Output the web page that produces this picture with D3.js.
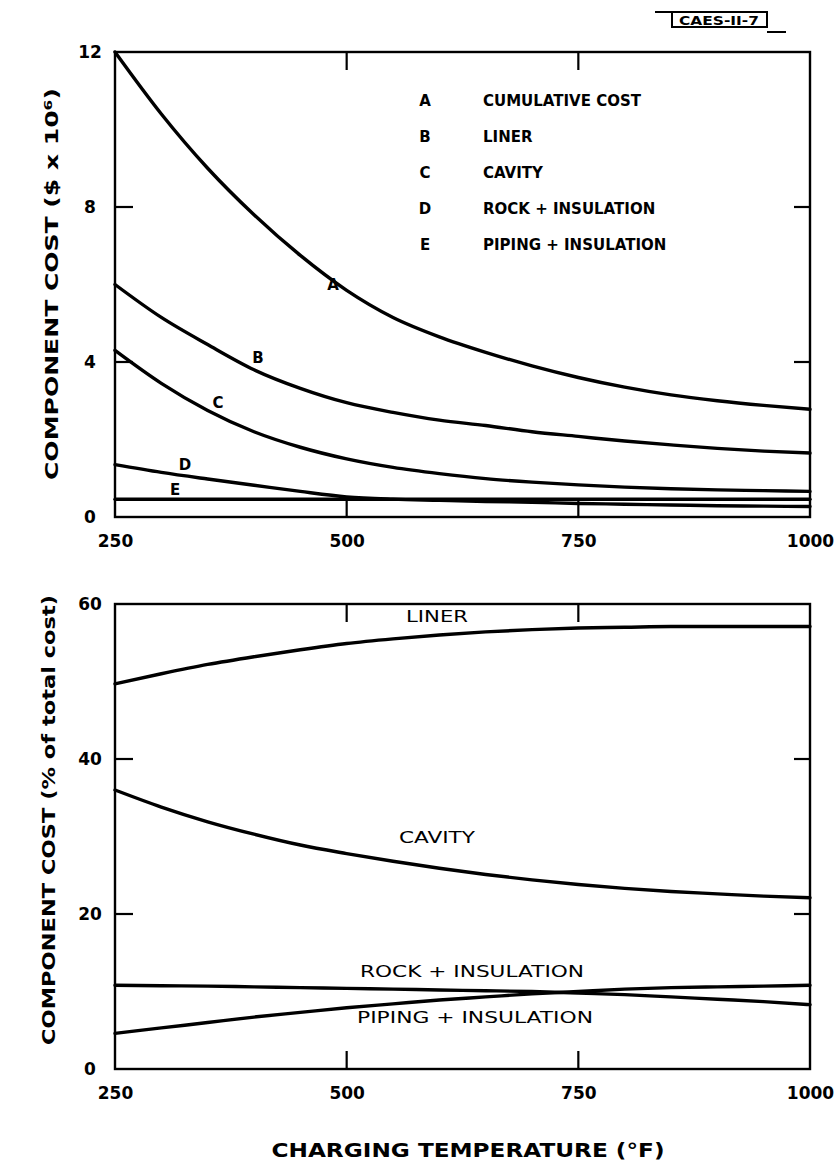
<!DOCTYPE html>
<html><head><meta charset="utf-8">
<script src="https://cdn.jsdelivr.net/npm/d3@7/dist/d3.min.js"></script>
<style>
html,body{margin:0;padding:0;background:#fff;}
svg text{font-family:"DejaVu Sans",sans-serif;fill:#000;}
</style></head>
<body>
<svg id="chart" width="839" height="1168"></svg>
<script>
// ---------- data ----------
const temps = [250,300,350,400,450,500,550,600,650,700,750,800,850,900,950,1000];
const costA = [12.0,10.4,9.0,7.8,6.75,5.85,5.15,4.65,4.25,3.9,3.6,3.35,3.15,3.0,2.88,2.78];
const costB = [6.0,5.15,4.45,3.8,3.32,2.95,2.7,2.5,2.36,2.2,2.08,1.96,1.86,1.77,1.7,1.65];
const costC = [4.3,3.45,2.75,2.2,1.8,1.5,1.28,1.12,0.99,0.9,0.83,0.77,0.73,0.7,0.68,0.66];
const costD = [1.35,1.15,0.98,0.82,0.66,0.52,0.46,0.43,0.4,0.38,0.35,0.33,0.31,0.29,0.28,0.27];
const costE = [0.46,0.46,0.46,0.46,0.46,0.46,0.46,0.46,0.46,0.46,0.46,0.46,0.46,0.46,0.46,0.46];
const pctLiner  = [49.7,51.0,52.2,53.2,54.1,54.9,55.5,56.0,56.4,56.7,56.9,57.0,57.1,57.1,57.1,57.1];
const pctCavity = [36.0,33.8,31.9,30.3,28.9,27.8,26.8,25.9,25.1,24.4,23.8,23.3,22.9,22.6,22.3,22.1];
const pctRock   = [10.8,10.75,10.7,10.6,10.5,10.4,10.3,10.2,10.1,10.0,9.8,9.6,9.3,9.0,8.7,8.3];
const pctPiping = [4.6,5.3,6.0,6.7,7.3,7.9,8.4,8.9,9.3,9.7,10.0,10.3,10.5,10.6,10.7,10.8];
const xTicks = [250,500,750,1000];
const topYTicks = [0,4,8,12];
const botYTicks = [0,20,40,60];
const legendKeys = ["A","B","C","D","E"];
const legendNames = ["CUMULATIVE COST","LINER","CAVITY","ROCK + INSULATION","PIPING + INSULATION"];

// ---------- layout ----------
const svg = d3.select("#chart");
const x = d3.scaleLinear().domain([250,1000]).range([115,810]);
const yTop = d3.scaleLinear().domain([0,12]).range([517,52]);
const yBot = d3.scaleLinear().domain([0,60]).range([1069,604]);
const curveW = 3.4;

function drawFrame(y, yInner){
  const [yb, yt] = y.range();
  svg.append("rect").attr("x",x(250)).attr("y",yt).attr("width",x(1000)-x(250)).attr("height",yb-yt)
     .attr("fill","none").attr("stroke","#000").attr("stroke-width",2.4);
  [500,750].forEach(v=>{
    svg.append("line").attr("x1",x(v)).attr("x2",x(v)).attr("y1",yb).attr("y2",yb-18).attr("stroke","#000").attr("stroke-width",2.2);
    svg.append("line").attr("x1",x(v)).attr("x2",x(v)).attr("y1",yt).attr("y2",yt+18).attr("stroke","#000").attr("stroke-width",2.2);
  });
  yInner.forEach(v=>{
    svg.append("line").attr("x1",x(250)).attr("x2",x(250)+18).attr("y1",y(v)).attr("y2",y(v)).attr("stroke","#000").attr("stroke-width",2.2);
    svg.append("line").attr("x1",x(1000)).attr("x2",x(1000)-16).attr("y1",y(v)).attr("y2",y(v)).attr("stroke","#000").attr("stroke-width",2.2);
  });
}

function axes(y, yTicks, xLabelY){
  const gx = svg.append("g").attr("transform",`translate(0,${xLabelY})`)
    .call(d3.axisBottom(x).tickValues(xTicks).tickSize(0).tickPadding(0).tickFormat(d3.format("d")));
  gx.select(".domain").remove();
  gx.selectAll("text").attr("font-size",17).style("font-family","DejaVu Sans").style("font-weight","bold").attr("dy","0.35em");
  const gy = svg.append("g").attr("transform","translate(90,0)")
    .call(d3.axisLeft(y).tickValues(yTicks).tickSize(0).tickPadding(0).tickFormat(d3.format("d")));
  gy.select(".domain").remove();
  gy.selectAll("text").attr("font-size",17).style("font-family","DejaVu Sans").style("font-weight","bold").attr("text-anchor","middle").attr("dy","0.35em");
}

function curve(y, vals){
  const line = d3.line().x((d,i)=>x(temps[i])).y(d=>y(d)).curve(d3.curveMonotoneX);
  svg.append("path").attr("d",line(vals)).attr("fill","none").attr("stroke","#000").attr("stroke-width",curveW).attr("stroke-linecap","round");
}

// ---------- top chart ----------
drawFrame(yTop,[4,8]);
axes(yTop, topYTicks, 541);
[costA,costB,costC,costD,costE].forEach(v=>curve(yTop,v));

const letterPos = [[333,285],[258,358],[218,403],[185,465],[175,490]];
legendKeys.forEach((k,i)=>{
  svg.append("text").attr("x",letterPos[i][0]).attr("y",letterPos[i][1]).attr("dy","0.35em")
    .attr("text-anchor","middle").attr("font-size",15).style("font-weight","bold").text(k);
});
legendKeys.forEach((k,i)=>{
  const yy = 101 + i*36;
  svg.append("text").attr("x",425).attr("y",yy).attr("dy","0.35em").attr("text-anchor","middle").attr("font-size",15).style("font-weight","bold").text(k);
  svg.append("text").attr("x",483).attr("y",yy).attr("dy","0.35em").attr("font-size",15).style("font-weight","bold").text(legendNames[i]);
});

svg.append("text").attr("transform","translate(52,284) rotate(-90)").attr("text-anchor","middle").attr("dy","0.35em")
  .attr("font-size",18).style("font-weight","bold").attr("textLength",392).attr("lengthAdjust","spacingAndGlyphs")
  .text("COMPONENT COST ($ x 10\u2076)");

// tag
const tag = svg.append("g");
tag.append("rect").attr("x",672).attr("y",12).attr("width",95).attr("height",15).attr("fill","none").attr("stroke","#000").attr("stroke-width",2);
tag.append("line").attr("x1",655).attr("x2",672).attr("y1",12).attr("y2",12).attr("stroke","#000").attr("stroke-width",2);
tag.append("line").attr("x1",767).attr("x2",786).attr("y1",32).attr("y2",32).attr("stroke","#000").attr("stroke-width",2);
tag.append("text").attr("x",719).attr("y",20).attr("dy","0.35em").attr("text-anchor","middle").attr("font-size",13).style("font-weight","bold")
  .attr("textLength",80).attr("lengthAdjust","spacingAndGlyphs").text("CAES-II-7");

// ---------- bottom chart ----------
drawFrame(yBot,[20,40]);
axes(yBot, botYTicks, 1093);
[pctLiner,pctCavity,pctRock,pctPiping].forEach(v=>curve(yBot,v));

const botLabels = [["LINER",437,617,62],["CAVITY",437,838,76],["ROCK + INSULATION",472,972,224],["PIPING + INSULATION",475,1018,236]];
botLabels.forEach(([t,cx,cy,w])=>{
  svg.append("text").attr("x",cx).attr("y",cy).attr("dy","0.35em").attr("text-anchor","middle").attr("font-size",15)
    .style("font-weight","normal").attr("textLength",w).attr("lengthAdjust","spacingAndGlyphs").text(t);
});

svg.append("text").attr("transform","translate(49,820) rotate(-90)").attr("text-anchor","middle").attr("dy","0.35em")
  .attr("font-size",18).style("font-weight","bold").attr("textLength",450).attr("lengthAdjust","spacingAndGlyphs")
  .text("COMPONENT COST (% of total cost)");

svg.append("text").attr("x",468).attr("y",1150).attr("dy","0.35em").attr("text-anchor","middle").attr("font-size",19)
  .style("font-weight","bold").attr("textLength",393).attr("lengthAdjust","spacingAndGlyphs")
  .text("CHARGING TEMPERATURE (\u00B0F)");
</script>
</body></html>
